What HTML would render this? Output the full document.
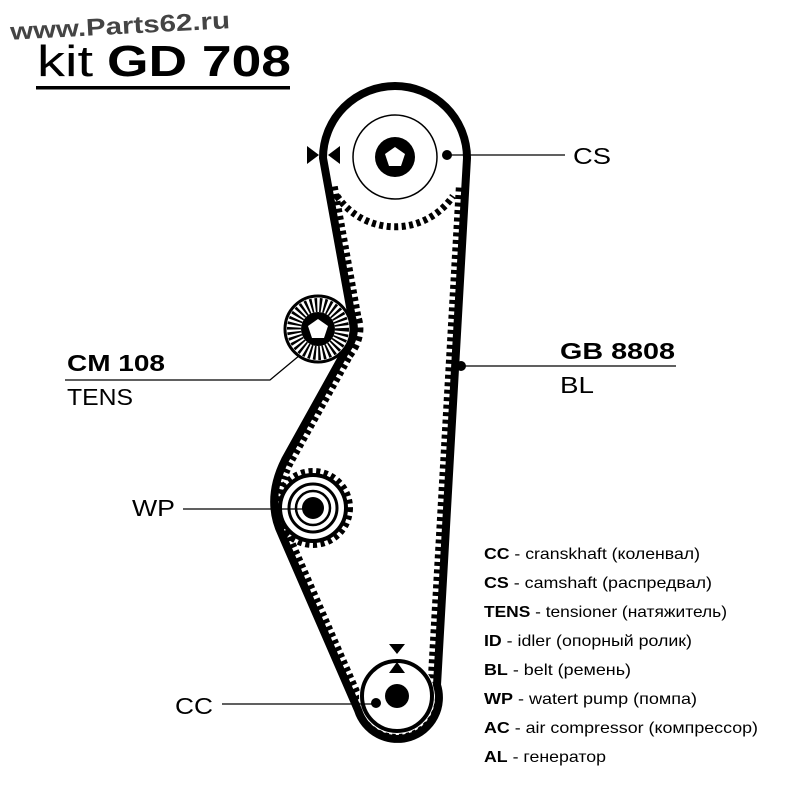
<!DOCTYPE html>
<html><head><meta charset="utf-8"><style>
body{margin:0;background:#fff;width:800px;height:800px;overflow:hidden}
svg text{font-family:"Liberation Sans","DejaVu Sans",sans-serif}
</style></head><body>
<svg width="800" height="800" viewBox="0 0 800 800" xmlns="http://www.w3.org/2000/svg">
<defs>
<clipPath id="inner"><path d="M323,158 L352,318 Q358,335 345,352 L285,460 Q265,500 282,535 L358,710 A40,40 0 0 0 437,685 L467,158 A72,72 0 0 0 323,158 Z"/></clipPath>
<clipPath id="low"><rect x="0" y="185" width="800" height="615"/></clipPath>
</defs>
<text x="10" y="34" font-size="24" font-weight="bold" fill="#444" textLength="220" lengthAdjust="spacingAndGlyphs" transform="rotate(-3 120 25)">www.Parts62.ru</text>
<text x="37" y="76" font-size="44" textLength="56" lengthAdjust="spacingAndGlyphs">kit</text>
<text x="107" y="76" font-size="44" font-weight="bold" textLength="184" lengthAdjust="spacingAndGlyphs">GD 708</text>
<rect x="36" y="86" width="254" height="3.5" fill="#000"/>

<!-- teeth -->
<g clip-path="url(#low)"><g clip-path="url(#inner)">
<path d="M323,158 L352,318 Q358,335 345,352 L285,460 Q265,500 282,535 L358,710 A40,40 0 0 0 437,685 L467,158 A72,72 0 0 0 323,158 Z" fill="none" stroke="#000" stroke-width="19" stroke-dasharray="4 3.5"/>
</g></g>
<circle cx="397" cy="696" r="38" fill="#fff"/>
<!-- CS gear teeth lower arc -->
<path d="M337,196 A70,70 0 0 0 453,196" fill="none" stroke="#000" stroke-width="7" stroke-dasharray="4 3.5"/>
<!-- belt -->
<path d="M323,158 L352,318 Q358,335 345,352 L285,460 Q265,500 282,535 L358,710 A40,40 0 0 0 437,685 L467,158 A72,72 0 0 0 323,158 Z" fill="none" stroke="#000" stroke-width="8" stroke-linejoin="round"/>

<!-- CS pulley -->
<circle cx="395" cy="157" r="42" fill="none" stroke="#000" stroke-width="1.5"/>
<circle cx="395" cy="157" r="20" fill="#000"/>
<polygon points="395,147 405,154 401,166 389,166 385,154" fill="#fff"/>
<circle cx="447" cy="155" r="5" fill="#000"/>
<polygon points="307,146 307,164 319,155" fill="#000"/>
<polygon points="340,146 340,164 328,155" fill="#000"/>
<line x1="447" y1="155" x2="565" y2="155" stroke="#000" stroke-width="1.3"/>
<text x="573" y="164" font-size="23" textLength="38" lengthAdjust="spacingAndGlyphs">CS</text>

<!-- tensioner -->
<circle cx="318" cy="329" r="33" fill="#fff" stroke="#000" stroke-width="3"/>
<circle cx="318" cy="329" r="24" fill="none" stroke="#000" stroke-width="14" stroke-dasharray="2.2 2.2"/>
<circle cx="318" cy="329" r="17" fill="#000"/>
<polygon points="318,319 328,326 324,338 312,338 308,326" fill="#fff"/>
<polyline points="65,380 270,380 300,355" fill="none" stroke="#000" stroke-width="1.3"/>
<text x="67" y="371" font-size="23" font-weight="bold" textLength="98" lengthAdjust="spacingAndGlyphs">CM 108</text>
<text x="67" y="405" font-size="23" textLength="66" lengthAdjust="spacingAndGlyphs">TENS</text>

<!-- GB -->
<circle cx="461" cy="366" r="5" fill="#000"/>
<line x1="461" y1="366" x2="676" y2="366" stroke="#000" stroke-width="1.3"/>
<text x="560" y="359" font-size="23" font-weight="bold" textLength="115" lengthAdjust="spacingAndGlyphs">GB 8808</text>
<text x="560" y="393" font-size="23" textLength="34" lengthAdjust="spacingAndGlyphs">BL</text>

<!-- WP -->
<circle cx="313" cy="508" r="36" fill="none" stroke="#000" stroke-width="8" stroke-dasharray="4 3.5"/>
<circle cx="313" cy="508" r="33" fill="#fff" stroke="#000" stroke-width="4"/>
<circle cx="313" cy="508" r="24" fill="none" stroke="#000" stroke-width="3"/>
<circle cx="313" cy="508" r="17" fill="none" stroke="#000" stroke-width="2.5"/>
<circle cx="313" cy="508" r="11" fill="#000"/>
<line x1="183" y1="509" x2="313" y2="509" stroke="#000" stroke-width="1.3"/>
<text x="132" y="516" font-size="23" textLength="43" lengthAdjust="spacingAndGlyphs">WP</text>

<!-- CC -->
<circle cx="397" cy="696" r="35" fill="none" stroke="#000" stroke-width="4"/>
<circle cx="397" cy="696" r="12" fill="#000"/>
<circle cx="376" cy="703" r="5" fill="#000"/>
<polygon points="389,644 405,644 397,654" fill="#000"/>
<polygon points="389,673 405,673 397,662" fill="#000"/>
<line x1="222" y1="704" x2="376" y2="704" stroke="#000" stroke-width="1.3"/>
<text x="175" y="714" font-size="23" textLength="38" lengthAdjust="spacingAndGlyphs">CC</text>

<!-- legend -->
<g font-size="16">
<text x="484" y="559" textLength="216" lengthAdjust="spacingAndGlyphs"><tspan font-weight="bold">CC</tspan> - cranskhaft (коленвал)</text>
<text x="484" y="588" textLength="228" lengthAdjust="spacingAndGlyphs"><tspan font-weight="bold">CS</tspan> - camshaft (распредвал)</text>
<text x="484" y="617" textLength="243" lengthAdjust="spacingAndGlyphs"><tspan font-weight="bold">TENS</tspan> - tensioner (натяжитель)</text>
<text x="484" y="646" textLength="208" lengthAdjust="spacingAndGlyphs"><tspan font-weight="bold">ID</tspan> - idler (опорный ролик)</text>
<text x="484" y="675" textLength="147" lengthAdjust="spacingAndGlyphs"><tspan font-weight="bold">BL</tspan> - belt (ремень)</text>
<text x="484" y="704" textLength="213" lengthAdjust="spacingAndGlyphs"><tspan font-weight="bold">WP</tspan> - watert pump (помпа)</text>
<text x="484" y="733" textLength="274" lengthAdjust="spacingAndGlyphs"><tspan font-weight="bold">AC</tspan> - air compressor (компрессор)</text>
<text x="484" y="762" textLength="122" lengthAdjust="spacingAndGlyphs"><tspan font-weight="bold">AL</tspan> - генератор</text>
</g>
</svg>
</body></html>
